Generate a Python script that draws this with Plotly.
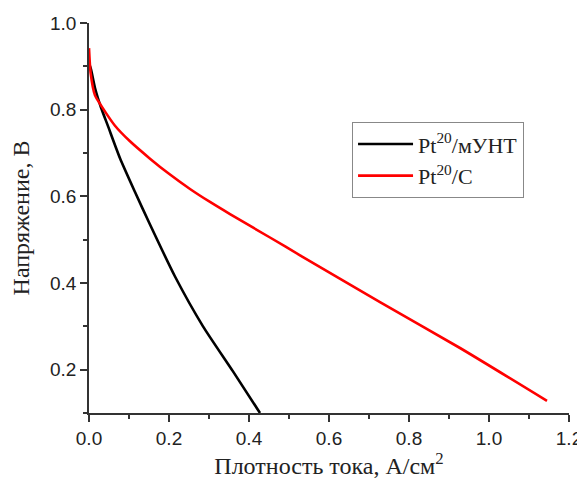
import plotly.graph_objects as go

# Data
mcnt_x = [0.0, 0.005, 0.015, 0.03, 0.0475, 0.0775, 0.115, 0.1525, 0.215, 0.285, 0.36, 0.4275]
mcnt_y = [0.907, 0.893, 0.85, 0.805, 0.762, 0.688, 0.61, 0.535, 0.415, 0.30, 0.196, 0.10]

c_x = [0.0, 0.004, 0.015, 0.03, 0.065, 0.1025, 0.1525, 0.2, 0.2525, 0.3025, 0.3525, 0.4525, 0.5275, 0.7275, 0.9275, 1.145]
c_y = [0.942, 0.885, 0.833, 0.81, 0.763, 0.727, 0.687, 0.652, 0.617, 0.587, 0.559, 0.505, 0.464, 0.356, 0.250, 0.128]

series_names = ["Pt<sup>20</sup>/мУНТ", "Pt<sup>20</sup>/C"]
x_title = "Плотность тока, А/см<sup>2</sup>"
y_title = "Напряжение, В"

fig = go.Figure()
fig.add_trace(go.Scatter(x=mcnt_x, y=mcnt_y, mode="lines", name=series_names[0],
                         line=dict(color="black", width=2.6, shape="spline", smoothing=0.6)))
fig.add_trace(go.Scatter(x=c_x, y=c_y, mode="lines", name=series_names[1],
                         line=dict(color="#ff0000", width=2.6, shape="spline", smoothing=0.6)))

axis_common = dict(
    showline=True, linecolor="#333333", linewidth=1.5,
    ticks="outside", ticklen=7, tickwidth=1.5, tickcolor="#333333",
    showgrid=False, zeroline=False, automargin=False,
    tickfont=dict(family="Liberation Sans, Arial", size=19, color="#222222"),
    title_font=dict(family="Liberation Serif, Times New Roman", size=24, color="#222222"),
)

fig.update_xaxes(range=[0, 1.2], tick0=0, dtick=0.2, tickformat=".1f",
                 minor=dict(ticks="outside", ticklen=4, tickwidth=1.5, tickcolor="#333333", dtick=0.1, tick0=0),
                 title=dict(text=x_title, standoff=8), **axis_common)
fig.update_yaxes(range=[0.1, 1.0], tick0=0, dtick=0.2, tickformat=".1f",
                 minor=dict(ticks="outside", ticklen=4, tickwidth=1.5, tickcolor="#333333", dtick=0.1, tick0=0.1),
                 title=dict(text=y_title, standoff=18), **axis_common)

# The page body has an 8px margin, so the figure is sized/offset to compensate
fig.update_layout(
    width=577, height=479,
    margin=dict(l=81, r=16, t=15, b=74),
    paper_bgcolor="white", plot_bgcolor="white",
    showlegend=True,
    legend=dict(x=0.548, y=0.7456, xanchor="left", yanchor="top",
                bgcolor="white", bordercolor="#888888", borderwidth=1,
                font=dict(family="Liberation Serif, Times New Roman", size=22, color="#222222"),
                tracegroupgap=0, itemwidth=55),
)

fig.write_html("out.html")
